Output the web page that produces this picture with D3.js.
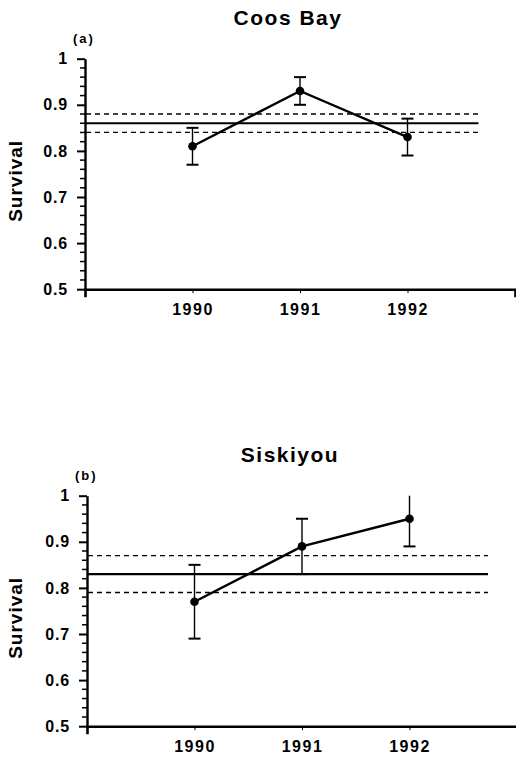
<!DOCTYPE html>
<html>
<head>
<meta charset="utf-8">
<script src="https://cdn.jsdelivr.net/npm/d3@7"></script>
<style>
  body { margin: 0; background: #fff; }
  svg { font-family: Arial, "Liberation Sans", Helvetica, sans-serif; font-weight: bold; }
</style>
</head>
<body>
<div id="chart"></div>
<script>
// Data
var years = [1990, 1991, 1992];
var panelTitles = ["Coos Bay", "Siskiyou"];
var panelLetters = ["(a)", "(b)"];

var coosSurvival = [0.81, 0.93, 0.83];
var coosLower = [0.77, 0.90, 0.79];
var coosUpper = [0.85, 0.96, 0.87];
var coosMean = [0.84, 0.86, 0.88]; // lower CI, mean, upper CI

var siskSurvival = [0.77, 0.89, 0.95];
var siskLower = [0.69, 0.83, 0.89];
var siskUpper = [0.85, 0.95, 1.00];
var siskMean = [0.79, 0.83, 0.87];

var yTicks = [0.5, 0.6, 0.7, 0.8, 0.9, 1];
var yMinorTicks = [0.52, 0.54, 0.56, 0.58, 0.62, 0.64, 0.66, 0.68, 0.72, 0.74, 0.76, 0.78,
                   0.82, 0.84, 0.86, 0.88, 0.92, 0.94, 0.96, 0.98];

var svgWidth = 516, svgHeight = 757;

var svg = d3.select("#chart")
  .append("svg")
  .attr("width", svgWidth)
  .attr("height", svgHeight);

// panel layout
var panels = [
  { left: 85, top: 58.7, title: panelTitles[0], letter: panelLetters[0],
    est: coosSurvival, lo: coosLower, hi: coosUpper, mean: coosMean, lineEnd: 1992.66 },
  { left: 87, top: 495.7, title: panelTitles[1], letter: panelLetters[1],
    est: siskSurvival, lo: siskLower, hi: siskUpper, mean: siskMean, lineEnd: 1992.73 }
];

var chartWidth = 430;
var chartHeight = 230.5;

panels.forEach(function(p) {
  var g = svg.append("g")
    .attr("transform", `translate(${p.left}, ${p.top})`);

  var x = d3.scaleLinear().domain([1989, 1993]).range([0, chartWidth]);
  var y = d3.scaleLinear().domain([0.5, 1]).range([chartHeight, 0]);

  // title and panel letter
  g.append("text")
    .attr("x", 203)
    .attr("y", -34)
    .attr("text-anchor", "middle")
    .attr("font-size", "21px")
    .attr("letter-spacing", "1.5px")
    .text(p.title);

  g.append("text")
    .attr("x", -12)
    .attr("y", -16)
    .attr("font-size", "13px")
    .attr("letter-spacing", "2px")
    .text(p.letter);

  // minor y ticks
  g.selectAll(".minor")
    .data(yMinorTicks)
    .enter()
    .append("line")
    .attr("class", "minor")
    .attr("x1", -5).attr("x2", 0)
    .attr("y1", d => y(d)).attr("y2", d => y(d))
    .attr("stroke", "#000").attr("stroke-width", 1.5);

  // major y ticks + labels
  var yAxis = g.append("g")
    .call(d3.axisLeft(y).tickValues(yTicks).tickSize(8).tickSizeOuter(0)
      .tickFormat(d => d === 1 ? "1" : d3.format(".1f")(d)));
  yAxis.select(".domain").attr("stroke-width", 2.4);
  yAxis.selectAll("line").attr("stroke-width", 2);
  yAxis.selectAll("text")
    .attr("font-size", "16px")
    .attr("font-weight", "bold")
    .attr("font-family", "Arial, 'Liberation Sans', sans-serif")
    .attr("x", -17)
    .attr("letter-spacing", "0.8px");

  // x axis
  var xAxis = g.append("g")
    .attr("transform", `translate(0, ${chartHeight})`)
    .call(d3.axisBottom(x).tickValues(years).tickSize(4).tickSizeOuter(8).tickFormat(d3.format("d")));
  xAxis.select(".domain").attr("stroke-width", 2.6);
  xAxis.selectAll("line").attr("stroke-width", 1);
  xAxis.selectAll("text")
    .attr("font-size", "16px")
    .attr("font-weight", "bold")
    .attr("font-family", "Arial, 'Liberation Sans', sans-serif")
    .attr("y", 14)
    .attr("letter-spacing", "1.5px");

  // y axis title
  g.append("text")
    .attr("transform", `translate(${-p.left + 22}, ${chartHeight * 0.53}) rotate(-90)`)
    .attr("text-anchor", "middle")
    .attr("font-size", "19px")
    .attr("letter-spacing", "1px")
    .text("Survival");

  // mean and confidence lines
  g.append("line")
    .attr("x1", 1).attr("x2", x(p.lineEnd))
    .attr("y1", y(p.mean[1])).attr("y2", y(p.mean[1]))
    .attr("stroke", "#000").attr("stroke-width", 2.2);

  [p.mean[0], p.mean[2]].forEach(function(v) {
    g.append("line")
      .attr("x1", 1).attr("x2", x(p.lineEnd))
      .attr("y1", y(v)).attr("y2", y(v))
      .attr("stroke", "#000").attr("stroke-width", 1.3)
      .attr("stroke-dasharray", "5,4");
  });

  var pts = years.map((yr, i) => ({ year: yr, est: p.est[i], lo: p.lo[i], hi: p.hi[i] }));

  // error bars
  g.selectAll(".bar")
    .data(pts)
    .enter()
    .append("line")
    .attr("x1", d => x(d.year)).attr("x2", d => x(d.year))
    .attr("y1", d => y(d.lo)).attr("y2", d => y(d.hi))
    .attr("stroke", "#000").attr("stroke-width", 1.4);

  // caps (none drawn where the bar reaches the top of the axis)
  pts.forEach(function(d) {
    var caps = [d.lo];
    if (d.hi < 1) caps.push(d.hi);
    caps.forEach(function(c) {
      g.append("line")
        .attr("x1", x(d.year) - 6).attr("x2", x(d.year) + 6)
        .attr("y1", y(c)).attr("y2", y(c))
        .attr("stroke", "#000").attr("stroke-width", 2);
    });
  });

  // estimate line and points
  g.append("path")
    .datum(pts)
    .attr("fill", "none")
    .attr("stroke", "#000")
    .attr("stroke-width", 2.4)
    .attr("d", d3.line().x(d => x(d.year)).y(d => y(d.est)));

  g.selectAll("circle")
    .data(pts)
    .enter()
    .append("circle")
    .attr("cx", d => x(d.year))
    .attr("cy", d => y(d.est))
    .attr("r", 4.3)
    .attr("fill", "#000");
});
</script>
</body>
</html>
